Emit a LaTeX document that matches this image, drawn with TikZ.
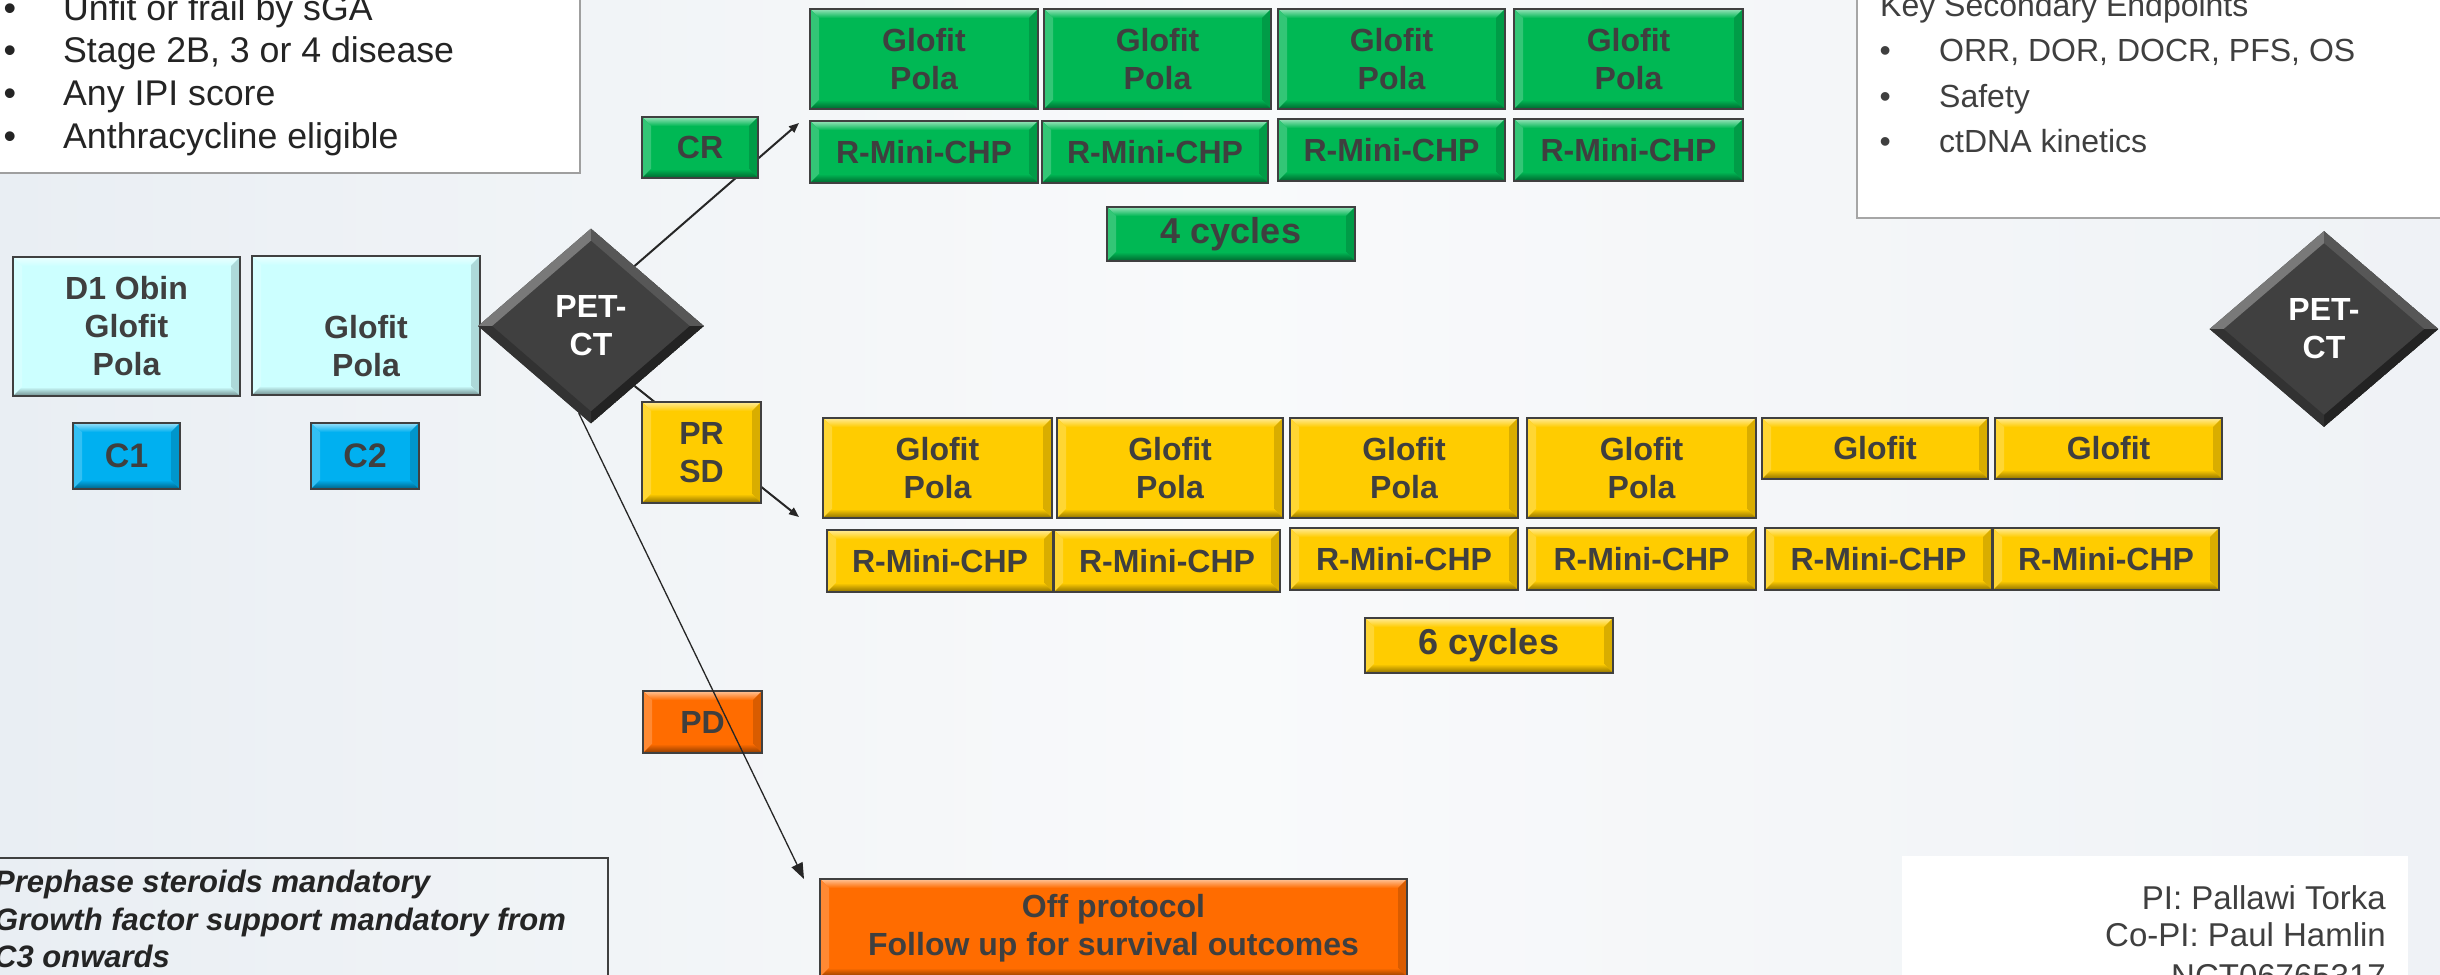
\documentclass[tikz,border=0pt]{standalone}
\usepackage{fontspec}
\setmainfont{Liberation Sans}
\usetikzlibrary{shapes.geometric,arrows.meta}
\definecolor{bgL}{RGB}{233,238,243}
\definecolor{bgM}{RGB}{249,250,251}
\definecolor{bgR}{RGB}{239,242,246}
\definecolor{edge}{RGB}{64,64,64}
\definecolor{txt}{RGB}{63,63,63}
\definecolor{txtdark}{RGB}{36,36,36}
\definecolor{cyanbox}{RGB}{204,255,255}
\definecolor{bluebox}{RGB}{0,176,240}
\definecolor{greenbox}{RGB}{0,184,84}
\definecolor{yellowbox}{RGB}{255,204,0}
\definecolor{orangebox}{RGB}{255,108,0}
\definecolor{darkd}{RGB}{64,64,64}
\tikzset{
  bev/.style={draw=edge, line width=2pt, fill=#1, text=txt,
    font=\fontsize{32}{38}\selectfont\bfseries, align=center, inner sep=0pt,
    path picture={
      \path (path picture bounding box.north west) coordinate (bA)
            (path picture bounding box.north east) coordinate (bB)
            (path picture bounding box.south east) coordinate (bC)
            (path picture bounding box.south west) coordinate (bD);
      \shade[top color=#1!40!white, bottom color=#1] (bA) -- (bB) -- ([shift={(-9pt,-9pt)}]bB) -- ([shift={(9pt,-9pt)}]bA) -- cycle;
      \fill[#1!80!white] (bA) -- ([shift={(9pt,-9pt)}]bA) -- ([shift={(9pt,9pt)}]bD) -- (bD) -- cycle;
      \fill[#1!85!black] (bB) -- ([shift={(-9pt,-9pt)}]bB) -- ([shift={(-9pt,9pt)}]bC) -- (bC) -- cycle;
      \shade[top color=#1, bottom color=#1!55!black] ([shift={(9pt,9pt)}]bD) -- ([shift={(-9pt,9pt)}]bC) -- (bC) -- (bD) -- cycle;
    }},
  dia/.style={diamond, minimum width=226pt, minimum height=195pt, inner sep=0pt,
    fill=darkd, text=white, font=\fontsize{32}{38}\selectfont\bfseries, align=center,
    path picture={
      \path (path picture bounding box.north) coordinate (dN)
            (path picture bounding box.east) coordinate (dE)
            (path picture bounding box.south) coordinate (dS)
            (path picture bounding box.west) coordinate (dW);
      \fill[darkd!70!white] (dW) -- (dN) -- ([yshift=-12pt]dN) -- ([xshift=14pt]dW) -- cycle;
      \fill[darkd!88!white] (dN) -- (dE) -- ([xshift=-14pt]dE) -- ([yshift=-12pt]dN) -- cycle;
      \fill[darkd!55!black] (dE) -- (dS) -- ([yshift=12pt]dS) -- ([xshift=-14pt]dE) -- cycle;
      \fill[darkd!78!black] (dS) -- (dW) -- ([xshift=14pt]dW) -- ([yshift=12pt]dS) -- cycle;
    }},
  conn/.style={draw=black!85, line width=2pt, -{Triangle[length=10pt,width=8pt]}},
  connthin/.style={draw=black!85, line width=1.3pt, -{Triangle[length=16pt,width=12pt]}},
  inctext/.style={inner sep=0pt, text=txtdark, font=\fontsize{35.7}{42}\selectfont},
  sectext/.style={inner sep=0pt, text=txt, font=\fontsize{32}{45}\selectfont},
  notetext/.style={inner sep=0pt, text=txtdark, font=\fontsize{31}{37}\selectfont\bfseries\itshape},
  pitext/.style={inner sep=0pt, text=txt, font=\fontsize{33}{37}\selectfont},
  cyc/.style={font=\fontsize{36}{40}\selectfont\bfseries},
  cfont/.style={font=\fontsize{34}{40}\selectfont\bfseries}
}
\begin{document}
\begin{tikzpicture}[x=1pt,y=-1pt]
\useasboundingbox (0,0) rectangle (2440,974);
\clip (0,0) rectangle (2440,974);
\shade[left color=bgL, right color=bgR, middle color=bgM] (0,0) rectangle (2440,974);

% text boxes
\node[draw=gray!75, line width=1.5pt, fill=white, minimum width=590pt, minimum height=183pt, inner sep=0pt] (incbox) at (285,81.5) {};
\node[draw=gray!70, line width=1.2pt, fill=white, minimum width=593pt, minimum height=228pt, inner sep=0pt] (secbox) at (2153.5,104) {};
\node[draw=edge, line width=1.5pt, minimum width=618pt, minimum height=132pt, inner sep=0pt] (notebox) at (299,924) {};
\node[fill=white, minimum width=506pt, minimum height=134pt, inner sep=0pt] (pibox) at (2155,923) {};

\node[inctext, anchor=base west] (i1) at (3.5,20.5) {\makebox[59.5pt][l]{\textbullet}Unfit or frail by sGA};
\node[inctext, anchor=base west] (i2) at (3.5,63) {\makebox[59.5pt][l]{\textbullet}Stage 2B, 3 or 4 disease};
\node[inctext, anchor=base west] (i3) at (3.5,105.5) {\makebox[59.5pt][l]{\textbullet}Any IPI score};
\node[inctext, anchor=base west] (i4) at (3.5,148) {\makebox[59.5pt][l]{\textbullet}Anthracycline eligible};

\node[sectext, anchor=base west] (s0) at (1880,17) {Key Secondary Endpoints};
\node[sectext, anchor=base west] (s1) at (1879.4,62) {\makebox[59.6pt][l]{\textbullet}ORR, DOR, DOCR, PFS, OS};
\node[sectext, anchor=base west] (s2) at (1879.4,107) {\makebox[59.6pt][l]{\textbullet}Safety};
\node[sectext, anchor=base west] (s3) at (1879.4,152) {\makebox[59.6pt][l]{\textbullet}ctDNA kinetics};

\node[notetext, anchor=base west] (n1) at (-6,892) {Prephase steroids mandatory};
\node[notetext, anchor=base west] (n2) at (-6,930) {Growth factor support mandatory from};
\node[notetext, anchor=base west] (n3) at (-6,967) {C3 onwards};

\node[pitext, anchor=base east] (p1) at (2386,909) {PI: Pallawi Torka};
\node[pitext, anchor=base east] (p2) at (2386,946) {Co-PI: Paul Hamlin};
\node[pitext, anchor=base east] (p3) at (2386,987) {NCT06765317};

% induction
\node[bev=cyanbox, minimum width=227pt, minimum height=139pt] (d1) at (126.5,326.5) {D1 Obin\\Glofit\\Pola};
\node[bev=cyanbox, minimum width=228pt, minimum height=139pt] (g2) at (366,325.5) {\strut\\Glofit\\Pola};
\node[bev=bluebox, cfont, minimum width=107pt, minimum height=66pt] (c1) at (126.5,456) {C1};
\node[bev=bluebox, cfont, minimum width=108pt, minimum height=66pt] (c2) at (365,456) {C2};

\node[dia] (pet) at (591,326) {PET-\\CT};
\node[dia, minimum width=229pt, minimum height=196pt] (pet2) at (2324,329) {PET-\\CT};

\coordinate (crEnd) at (799,123);
\coordinate (prEnd) at (799,517);
\coordinate (pdEnd) at (804,879);
\draw[conn] (pet.54) -- (crEnd);
\draw[conn] (pet.-54) -- (prEnd);

% CR branch
\node[bev=greenbox, minimum width=116pt, minimum height=61pt] (cr) at (700,147.5) {CR};
\node[bev=greenbox, minimum width=228pt, minimum height=100pt] (gt1) at (924,59) {Glofit\\Pola};
\node[bev=greenbox, minimum width=227pt, minimum height=100pt] (gt2) at (1157.5,59) {Glofit\\Pola};
\node[bev=greenbox, minimum width=227pt, minimum height=100pt] (gt3) at (1391.5,59) {Glofit\\Pola};
\node[bev=greenbox, minimum width=229pt, minimum height=100pt] (gt4) at (1628.5,59) {Glofit\\Pola};
\node[bev=greenbox, minimum width=228pt, minimum height=62pt] (gr1) at (924,152) {R-Mini-CHP};
\node[bev=greenbox, minimum width=226pt, minimum height=62pt] (gr2) at (1155,152) {R-Mini-CHP};
\node[bev=greenbox, minimum width=227pt, minimum height=62pt] (gr3) at (1391.5,150) {R-Mini-CHP};
\node[bev=greenbox, minimum width=229pt, minimum height=62pt] (gr4) at (1628.5,150) {R-Mini-CHP};
\node[bev=greenbox, cyc, minimum width=248pt, minimum height=54pt] (g4c) at (1231,234) {4 cycles};

% PR/SD branch
\node[bev=yellowbox, minimum width=119pt, minimum height=101pt] (prsd) at (701.5,452.5) {PR\\SD};
\node[bev=yellowbox, minimum width=229pt, minimum height=100pt] (yt1) at (937.5,468) {Glofit\\Pola};
\node[bev=yellowbox, minimum width=226pt, minimum height=100pt] (yt2) at (1170,468) {Glofit\\Pola};
\node[bev=yellowbox, minimum width=228pt, minimum height=100pt] (yt3) at (1404,468) {Glofit\\Pola};
\node[bev=yellowbox, minimum width=229pt, minimum height=100pt] (yt4) at (1641.5,468) {Glofit\\Pola};
\node[bev=yellowbox, minimum width=226pt, minimum height=61pt] (yt5) at (1875,448.5) {Glofit};
\node[bev=yellowbox, minimum width=227pt, minimum height=61pt] (yt6) at (2108.5,448.5) {Glofit};
\node[bev=yellowbox, minimum width=226pt, minimum height=62pt] (yr1) at (940,561) {R-Mini-CHP};
\node[bev=yellowbox, minimum width=226pt, minimum height=62pt] (yr2) at (1167,561) {R-Mini-CHP};
\node[bev=yellowbox, minimum width=228pt, minimum height=62pt] (yr3) at (1404,559) {R-Mini-CHP};
\node[bev=yellowbox, minimum width=229pt, minimum height=62pt] (yr4) at (1641.5,559) {R-Mini-CHP};
\node[bev=yellowbox, minimum width=227pt, minimum height=62pt] (yr5) at (1878.5,559) {R-Mini-CHP};
\node[bev=yellowbox, minimum width=226pt, minimum height=62pt] (yr6) at (2106,559) {R-Mini-CHP};
\node[bev=yellowbox, cyc, minimum width=248pt, minimum height=55pt] (y6c) at (1489,645.5) {6 cycles};

% PD branch
\node[bev=orangebox, minimum width=119pt, minimum height=62pt] (pd) at (702.5,722) {PD};
\draw[connthin] (pet.-98) -- (pdEnd);
\node[bev=orangebox, minimum width=587pt, minimum height=98pt] (off) at (1113.5,928) {Off protocol\\Follow up for survival outcomes};
\end{tikzpicture}
\end{document}
